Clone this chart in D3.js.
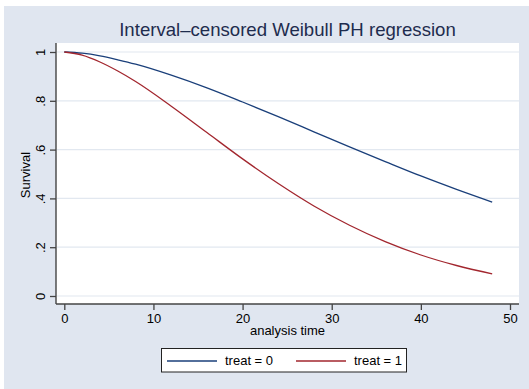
<!DOCTYPE html>
<html>
<head>
<meta charset="utf-8">
<script src="https://cdn.jsdelivr.net/npm/d3@7"></script>
<style>
  html, body { margin: 0; padding: 0; background: #ffffff; }
  svg { display: block; font-family: "Liberation Sans", Arial, sans-serif; }
</style>
</head>
<body>
<svg id="chart" width="529" height="389"></svg>
<script>
// ---- data ----
const times   = [0, 2, 4, 6, 8, 12, 16, 20, 24, 28, 32, 36, 40, 44, 48];
const surv0   = [1, 0.995, 0.984, 0.968, 0.950, 0.905, 0.853, 0.795, 0.735, 0.673, 0.611, 0.551, 0.492, 0.437, 0.385];
const surv1   = [1, 0.987, 0.959, 0.922, 0.879, 0.778, 0.670, 0.562, 0.461, 0.369, 0.290, 0.223, 0.168, 0.125, 0.091];
const seriesNames = ["treat = 0", "treat = 1"];
const xTicks = [0, 10, 20, 30, 40, 50];
const yTicks = [0, 0.2, 0.4, 0.6, 0.8, 1];
const yTickLabels = ["0", ".2", ".4", ".6", ".8", "1"];
const titleText = "Interval\u2013censored Weibull PH regression";
const xTitle = "analysis time";
const yTitle = "Survival";

// ---- styles ----
const bgCol = "#E0E6F0";
const gridCol = "#E2E8F0";
const axisCol = "#444444";
const colors = ["#1a3f7a", "#a2262e"];

const svg = d3.select("#chart");

// graph region
svg.append("rect").attr("x", 4).attr("y", 6).attr("width", 525).attr("height", 383).attr("fill", bgCol);

// plot region
const plot = {left: 56, right: 519, top: 43, bottom: 304};
svg.append("rect").attr("x", plot.left).attr("y", plot.top)
  .attr("width", plot.right - plot.left).attr("height", plot.bottom - plot.top)
  .attr("fill", "#ffffff");

const x = d3.scaleLinear().domain([0, 50]).range([64.3, 510]);
const y = d3.scaleLinear().domain([0, 1]).range([296, 52]);

// grid
svg.append("g").selectAll("line").data(yTicks).join("line")
  .attr("x1", plot.left + 1).attr("x2", plot.right)
  .attr("y1", d => y(d)).attr("y2", d => y(d))
  .attr("stroke", gridCol).attr("stroke-width", 1.2);

// y axis
const yAxis = d3.axisLeft(y).tickValues(yTicks).tickSize(6).tickPadding(3)
  .tickFormat((d, i) => yTickLabels[i]);
const gy = svg.append("g").attr("transform", `translate(${plot.left},0)`).call(yAxis);
gy.select(".domain").remove();
gy.selectAll(".tick line").attr("stroke", axisCol).attr("stroke-width", 1.3);
gy.selectAll(".tick text").attr("font-size", 13).attr("fill", "#000")
  .attr("font-family", "Liberation Sans, Arial, sans-serif")
  .attr("x", null).attr("dy", null)
  .attr("text-anchor", "middle")
  .attr("transform", "translate(-11,0) rotate(-90)")
  .attr("y", 0).attr("dy", "0");
svg.append("line").attr("x1", plot.left).attr("x2", plot.left)
  .attr("y1", plot.top).attr("y2", plot.bottom)
  .attr("stroke", axisCol).attr("stroke-width", 1.4);

// x axis
const xAxis = d3.axisBottom(x).tickValues(xTicks).tickSize(6).tickPadding(3)
  .tickFormat(d3.format("d"));
const gx = svg.append("g").attr("transform", `translate(0,${plot.bottom})`).call(xAxis);
gx.select(".domain").remove();
gx.selectAll(".tick line").attr("stroke", axisCol).attr("stroke-width", 1.3);
gx.selectAll(".tick text").attr("font-size", 13).attr("fill", "#000")
  .attr("font-family", "Liberation Sans, Arial, sans-serif")
  .attr("y", 18.5).attr("dy", null);
svg.append("line").attr("x1", plot.left).attr("x2", plot.right)
  .attr("y1", plot.bottom).attr("y2", plot.bottom)
  .attr("stroke", axisCol).attr("stroke-width", 1.4);

// lines
const line = d3.line().x(d => x(d[0])).y(d => y(d[1])).curve(d3.curveMonotoneX);
[surv0, surv1].forEach((s, i) => {
  svg.append("path").datum(times.map((t, j) => [t, s[j]]))
    .attr("d", line).attr("fill", "none")
    .attr("stroke", colors[i]).attr("stroke-width", 1.3);
});

// titles
svg.append("text").attr("x", 287.5).attr("y", 36).attr("text-anchor", "middle")
  .attr("font-size", 18.6).attr("fill", "#1e2c4e").text(titleText);
svg.append("text").attr("x", 287.5).attr("y", 335).attr("text-anchor", "middle")
  .attr("font-size", 13).attr("fill", "#000").text(xTitle);
svg.append("text").attr("transform", "translate(30,175) rotate(-90)").attr("text-anchor", "middle")
  .attr("font-size", 13).attr("fill", "#000").text(yTitle);

// legend
const lg = svg.append("g");
lg.append("rect").attr("x", 161.5).attr("y", 348.5).attr("width", 245).attr("height", 23.5)
  .attr("fill", "#ffffff").attr("stroke", "#222").attr("stroke-width", 1);
const legX = [167, 296];
seriesNames.forEach((n, i) => {
  lg.append("line").attr("x1", legX[i]).attr("x2", legX[i] + 50)
    .attr("y1", 361).attr("y2", 361).attr("stroke", colors[i]).attr("stroke-width", 1.3);
  lg.append("text").attr("x", legX[i] + 58).attr("y", 365).attr("font-size", 13)
    .attr("fill", "#000").text(n);
});
</script>
</body>
</html>
